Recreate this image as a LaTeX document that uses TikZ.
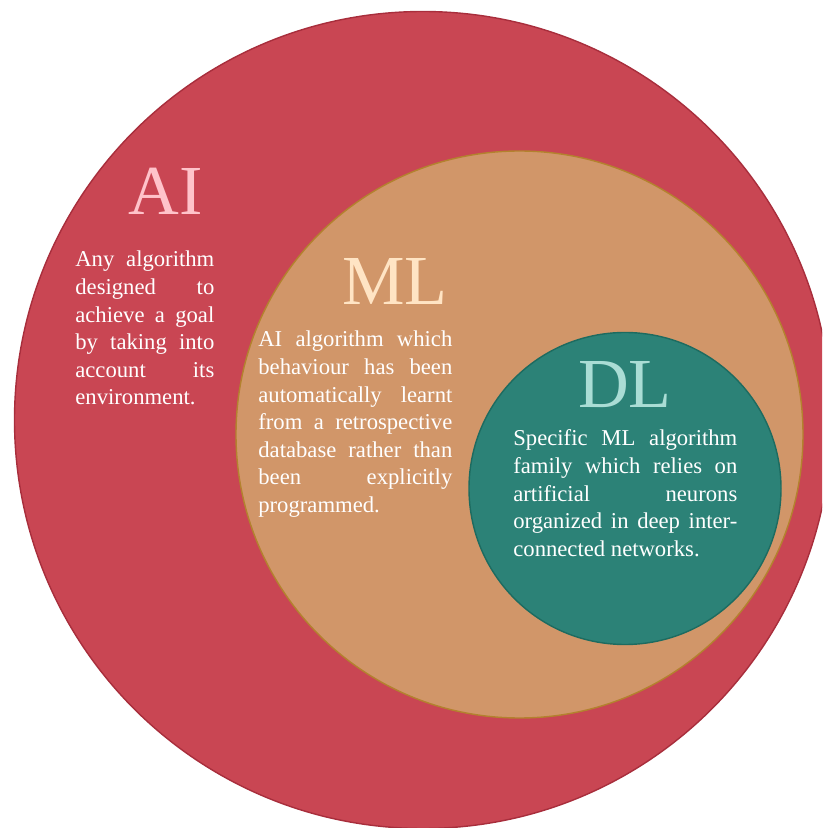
\documentclass[tikz,border=0pt]{standalone}
\usepackage{fontspec}
\setmainfont{Liberation Serif}
\usepackage{tikz}
\usetikzlibrary{positioning}

\definecolor{aired}{HTML}{C94653}
\definecolor{aiedge}{HTML}{A82E3C}
\definecolor{mltan}{HTML}{D19669}
\definecolor{mledge}{HTML}{B3822E}
\definecolor{dlteal}{HTML}{2C8277}
\definecolor{dledge}{HTML}{1D6B60}
\definecolor{ailabel}{HTML}{FFC3CA}
\definecolor{mllabel}{HTML}{FFE4C4}
\definecolor{dllabel}{HTML}{AADDD5}

\hyphenpenalty=10000\relax

\tikzset{
  biglabel/.style={anchor=base,inner sep=0pt,font=\fontsize{40}{48}\selectfont},
  bodytext/.style={anchor=base west,inner sep=0pt,align=justify,text=white,
    font=\fontsize{12.9}{15.7}\selectfont}
}

\begin{document}
\begin{tikzpicture}
      \clip (0,0) rectangle (16.44,16.56);
      \useasboundingbox (0,0) rectangle (16.44,16.56);
      \draw[aiedge,fill=aired,line width=0.8pt] (8.46,8.16) circle (8.17);
      \draw[mledge,fill=mltan,line width=0.8pt] (10.39,7.87) circle (5.67);
      \draw[dledge,fill=dlteal,line width=0.8pt] (12.5,6.79) circle (3.12);

      \node[biglabel,text=ailabel] (ailbl) at (3.32,12.26) {AI};
      \node[bodytext,text width=2.78cm] (aitxt) at (1.5,11.22)
        {Any algorithm\linebreak designed to\linebreak achieve a goal\linebreak
         by taking into\linebreak account its\linebreak environment.};

      \node[biglabel,text=mllabel] (mllbl) at (7.9,10.46) {ML};
      \node[bodytext,text width=3.88cm] (mltxt) at (5.16,9.62)
        {AI algorithm which\linebreak behaviour has been\linebreak
         automatically learnt\linebreak from a retrospective\linebreak
         database rather than\linebreak been explicitly\linebreak programmed.};

      \node[biglabel,text=dllabel] (dllbl) at (12.5,8.4) {DL};
      \node[bodytext,text width=4.48cm] (dltxt) at (10.26,7.64)
        {Specific ML algorithm\linebreak family which relies on\linebreak
         artificial neurons\linebreak organized in deep inter-\linebreak
         connected networks.};
\end{tikzpicture}
\end{document}
